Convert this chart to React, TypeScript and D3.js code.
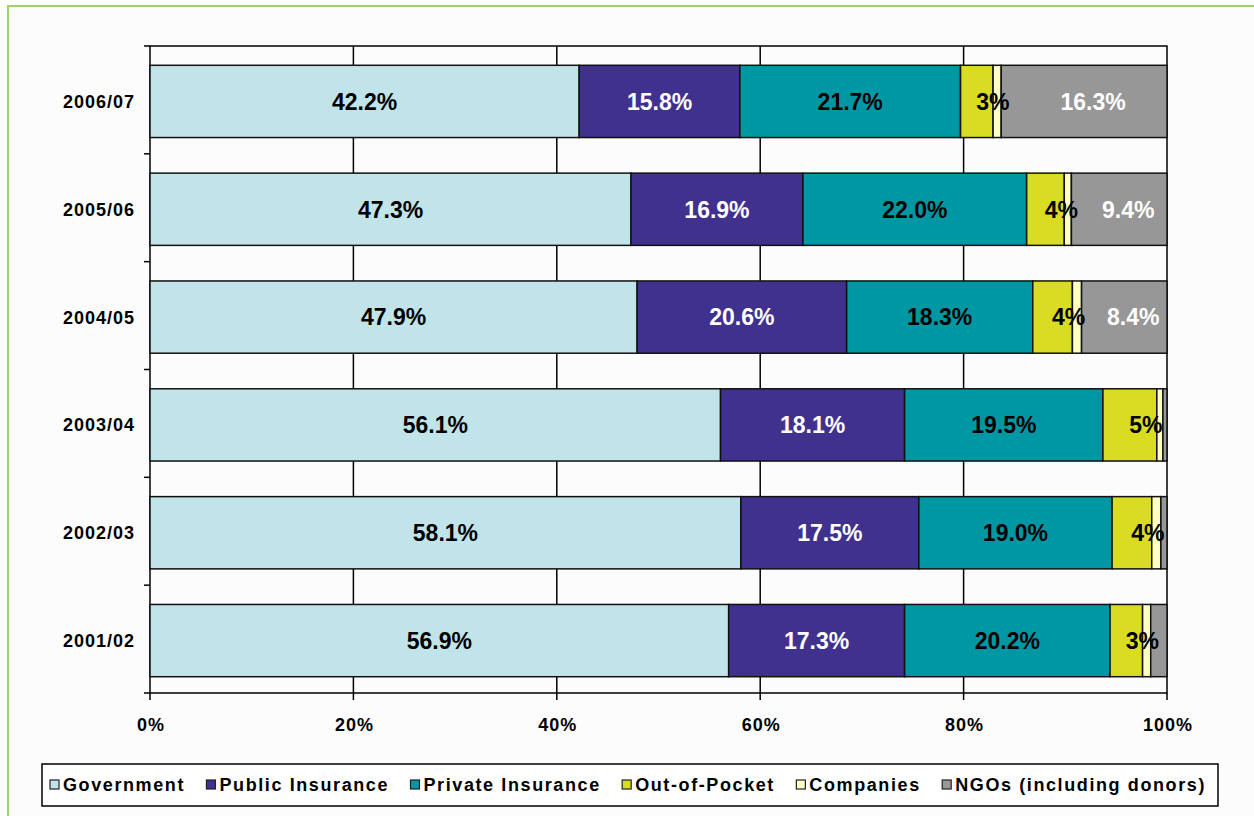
import React, { useEffect, useRef } from "react";
import * as d3 from "d3";

const categories = ["2006/07", "2005/06", "2004/05", "2003/04", "2002/03", "2001/02"];
const seriesNames = ["Government", "Public Insurance", "Private Insurance", "Out-of-Pocket", "Companies", "NGOs (including donors)"];
const government = [42.2, 47.3, 47.9, 56.1, 58.1, 56.9];
const publicInsurance = [15.8, 16.9, 20.6, 18.1, 17.5, 17.3];
const privateInsurance = [21.7, 22.0, 18.3, 19.5, 19.0, 20.2];
const outOfPocket = [3.2, 3.7, 3.9, 5.3, 3.9, 3.2];
const companies = [0.8, 0.7, 0.9, 0.6, 0.9, 0.8];
const ngos = [16.3, 9.4, 8.4, 0.4, 0.6, 1.6];
const xTicks = [0, 20, 40, 60, 80, 100];

const seriesValues = [government, publicInsurance, privateInsurance, outOfPocket, companies, ngos];
const colors = ["#c0e4ea", "#41318f", "#0097a5", "#d9dc22", "#ffffc4", "#979797"];
const labelColors = ["#000", "#fff", "#000", "#000", "#000", "#fff"];
// label mode: "dec" = one decimal, "int" = rounded integer, "big" = one decimal only if large, "none"
const labelModes = ["dec", "dec", "dec", "int", "none", "big"];
const labelDx = [0, 0, 0, 16, 0, 9];

const W = 1254;
const H = 816;
const M = { left: 150, right: 1167, top: 46, bottom: 693 };

export default function App() {
  const ref = useRef<SVGSVGElement | null>(null);

  useEffect(() => {
    const svg = d3.select(ref.current);
    svg.selectAll("*").remove();
    const font = "'Liberation Sans', Arial, sans-serif";

    // frame
    svg.append("rect").attr("width", W).attr("height", H).attr("fill", "#ffffff");
    svg.append("rect")
      .attr("x", 8).attr("y", 6).attr("width", W + 20).attr("height", H + 20)
      .attr("fill", "#fcfcfc").attr("stroke", "#9dd16c").attr("stroke-width", 2);

    const x = d3.scaleLinear().domain([0, 100]).range([M.left, M.right]);
    const y = d3.scaleBand<string>().domain(categories).range([M.top, M.bottom])
      .paddingInner(0.33).paddingOuter(0.165);

    // gridlines
    svg.append("g").selectAll("line").data(xTicks.filter(t => t > 0 && t < 100)).join("line")
      .attr("x1", d => x(d)).attr("x2", d => x(d))
      .attr("y1", M.top).attr("y2", M.bottom)
      .attr("stroke", "#000").attr("stroke-width", 1.5);

    // plot border
    svg.append("rect")
      .attr("x", M.left).attr("y", M.top)
      .attr("width", M.right - M.left).attr("height", M.bottom - M.top)
      .attr("fill", "none").attr("stroke", "#000").attr("stroke-width", 1.5);

    // stacks
    const rows = categories.map((c, i) => {
      let acc = 0;
      return seriesValues.map((vals, s) => {
        const v = vals[i];
        const seg = { cat: c, s, v, x0: acc, x1: acc + v };
        acc += v;
        return seg;
      });
    });
    const segs = rows.flat();
    const barOff = 1.5;

    svg.append("g").selectAll("rect").data(segs).join("rect")
      .attr("x", d => x(d.x0))
      .attr("y", d => (y(d.cat) as number) + barOff)
      .attr("width", d => x(d.x1) - x(d.x0))
      .attr("height", y.bandwidth())
      .attr("fill", d => colors[d.s])
      .attr("stroke", "#111").attr("stroke-width", 1.5);

    const labelText = (d: any) => {
      const m = labelModes[d.s];
      if (m === "dec") return d.v.toFixed(1) + "%";
      if (m === "int") return Math.round(d.v) + "%";
      if (m === "big") return d.v > 5 ? d.v.toFixed(1) + "%" : "";
      return "";
    };

    svg.append("g").selectAll("text").data(segs.filter(d => labelText(d) !== "")).join("text")
      .attr("x", d => (x(d.x0) + x(d.x1)) / 2 + labelDx[d.s])
      .attr("y", d => (y(d.cat) as number) + barOff + y.bandwidth() / 2)
      .attr("dy", "0.36em")
      .attr("text-anchor", "middle")
      .attr("font-family", font).attr("font-weight", "bold").attr("font-size", 23)
      .attr("fill", d => labelColors[d.s])
      .text(labelText);

    // y axis ticks (band boundaries)
    const bandStep = (M.bottom - M.top) / categories.length;
    const yTickPos = d3.range(categories.length + 1).map(k => M.top + k * bandStep);
    svg.append("g").selectAll("line").data(yTickPos).join("line")
      .attr("x1", M.left - 6).attr("x2", M.left)
      .attr("y1", d => d).attr("y2", d => d)
      .attr("stroke", "#000").attr("stroke-width", 1.5);

    svg.append("g").selectAll("text").data(categories).join("text")
      .attr("x", 135)
      .attr("y", d => (y(d) as number) + barOff + y.bandwidth() / 2)
      .attr("dy", "0.36em")
      .attr("text-anchor", "end")
      .attr("font-family", font).attr("font-weight", "bold").attr("font-size", 18)
      .attr("letter-spacing", 1)
      .attr("fill", "#000")
      .text(d => d);

    // x axis
    svg.append("g").selectAll("line").data(xTicks).join("line")
      .attr("x1", d => x(d)).attr("x2", d => x(d))
      .attr("y1", M.bottom).attr("y2", M.bottom + 7)
      .attr("stroke", "#000").attr("stroke-width", 1.5);
    svg.append("g").selectAll("text").data(xTicks).join("text")
      .attr("x", d => x(d) + 1)
      .attr("y", 731)
      .attr("text-anchor", "middle")
      .attr("font-family", font).attr("font-weight", "bold").attr("font-size", 18)
      .attr("letter-spacing", 1)
      .attr("fill", "#000")
      .text(d => d + "%");

    // legend
    const lg = { x0: 42, x1: 1218, y0: 764, y1: 806 };
    svg.append("rect")
      .attr("x", lg.x0).attr("y", lg.y0)
      .attr("width", lg.x1 - lg.x0).attr("height", lg.y1 - lg.y0)
      .attr("fill", "#fff").attr("stroke", "#000").attr("stroke-width", 1.5);
    const legendG = svg.append("g");
    const items = seriesNames.map((name, i) => {
      const g = legendG.append("g");
      g.append("rect").attr("width", 9).attr("height", 9).attr("y", -5)
        .attr("fill", colors[i]).attr("stroke", "#222").attr("stroke-width", 1.2);
      const t = g.append("text").attr("x", 13).attr("dy", "0.36em")
        .attr("font-family", font).attr("font-weight", "bold").attr("font-size", 18)
        .attr("letter-spacing", 1.6).attr("fill", "#000").text(name);
      const w = (t.node() as SVGTextElement).getComputedTextLength();
      return { g, w: 13 + w };
    });
    const startX = 50, endX = 1206;
    const total = d3.sum(items, d => d.w);
    const gap = (endX - startX - total) / (items.length - 1);
    let cx = startX;
    const cy = (lg.y0 + lg.y1) / 2;
    items.forEach(it => {
      it.g.attr("transform", `translate(${cx},${cy})`);
      cx += it.w + gap;
    });
  }, []);

  return (
    <svg
      ref={ref}
      width={W}
      height={H}
      style={{ position: "absolute", left: 0, top: 0, display: "block" }}
    />
  );
}
